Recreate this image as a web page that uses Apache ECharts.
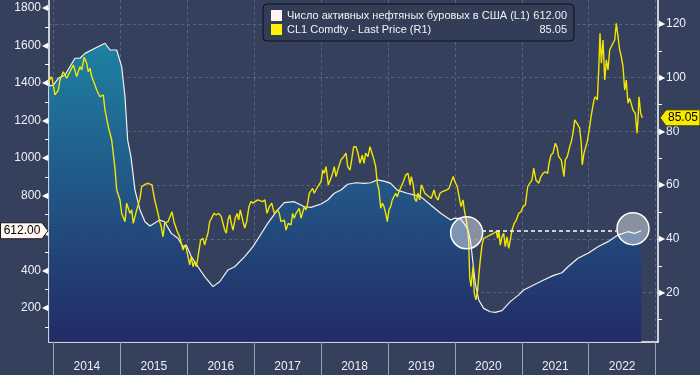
<!DOCTYPE html>
<html><head><meta charset="utf-8">
<script src="https://cdn.jsdelivr.net/npm/echarts@6/dist/echarts.min.js"></script>
<style>html,body{margin:0;padding:0;background:#35405c;}#c{width:700px;height:375px;}</style>
</head><body><div id="c"></div>
<script>
// ---- data ----
const seriesNames = ['Число активных нефтяных буровых в США (L1)', 'CL1 Comdty - Last Price (R1)'];
const yearTicks = [2014, 2015, 2016, 2017, 2018, 2019, 2020, 2021, 2022, 2023];
const yearLabels = ['2014', '2015', '2016', '2017', '2018', '2019', '2020', '2021', '2022'];
const leftLabelTicks = [200, 400, 600, 800, 1000, 1200, 1400, 1600, 1800];
const leftMinorTicks = [100, 300, 500, 700, 900, 1100, 1300, 1500, 1700];
const rightLabelTicks = [20, 40, 60, 80, 100, 120];
const rightMinorTicks = [10, 30, 50, 70, 90, 110];

// US oil rig count (time as decimal year)
const rigT = [2013.933, 2013.997, 2014.072, 2014.172, 2014.321, 2014.396, 2014.471, 2014.620, 2014.770, 2014.845,
  2014.945, 2015.019, 2015.069, 2015.109, 2015.158, 2015.218, 2015.293, 2015.368, 2015.442, 2015.462,
  2015.587, 2015.662, 2015.761, 2015.861, 2015.936, 2015.985, 2016.060, 2016.160, 2016.260, 2016.384,
  2016.484, 2016.608, 2016.709, 2016.858, 2016.982, 2017.076, 2017.202, 2017.351, 2017.450, 2017.599,
  2017.749, 2017.849, 2017.999, 2018.099, 2018.197, 2018.297, 2018.398, 2018.522, 2018.641, 2018.741,
  2018.840, 2018.940, 2019.040, 2019.139, 2019.288, 2019.489, 2019.638, 2019.788, 2019.937, 2019.987,
  2020.076, 2020.150, 2020.200, 2020.240, 2020.270, 2020.305, 2020.356, 2020.430, 2020.529, 2020.604,
  2020.704, 2020.828, 2020.954, 2021.028, 2021.178, 2021.327, 2021.477, 2021.601, 2021.691, 2021.840,
  2021.990, 2022.139, 2022.289, 2022.438, 2022.587, 2022.688, 2022.786];
const rigV = [1385, 1389, 1425, 1443, 1532, 1532, 1558, 1585, 1612, 1576,
  1576, 1487, 1327, 1096, 1007, 829, 723, 660, 637, 628,
  669, 660, 598, 572, 527, 536, 474, 420, 367, 314,
  340, 403, 420, 474, 527, 580, 651, 723, 762, 767,
  740, 737, 755, 776, 812, 829, 860, 868, 865, 868,
  883, 877, 865, 829, 812, 794, 749, 705, 669, 678,
  678, 645, 612, 540, 440, 332, 243, 198, 180, 177,
  186, 234, 270, 296, 323, 349, 374, 388, 420, 465,
  492, 527, 554, 589, 607, 598, 612];

// CL1 price (time as decimal year)
const priceT = [2013.922, 2013.973, 2013.997, 2014.022, 2014.072, 2014.097, 2014.146, 2014.172, 2014.197, 2014.247,
  2014.296, 2014.347, 2014.396, 2014.422, 2014.460, 2014.496, 2014.520, 2014.546, 2014.571, 2014.620,
  2014.646, 2014.670, 2014.695, 2014.744, 2014.770, 2014.819, 2014.870, 2014.894, 2014.919, 2014.945,
  2014.994, 2015.019, 2015.069, 2015.094, 2015.143, 2015.169, 2015.193, 2015.244, 2015.293, 2015.318,
  2015.368, 2015.413, 2015.442, 2015.472, 2015.513, 2015.562, 2015.588, 2015.611, 2015.637, 2015.662,
  2015.712, 2015.737, 2015.771, 2015.801, 2015.821, 2015.851, 2015.886, 2015.910, 2015.936, 2015.961,
  2015.985, 2016.010, 2016.036, 2016.060, 2016.085, 2016.111, 2016.135, 2016.160, 2016.200, 2016.235,
  2016.260, 2016.284, 2016.309, 2016.335, 2016.359, 2016.399, 2016.433, 2016.469, 2016.508, 2016.534,
  2016.559, 2016.583, 2016.608, 2016.634, 2016.658, 2016.683, 2016.717, 2016.747, 2016.768, 2016.792,
  2016.833, 2016.858, 2016.888, 2016.922, 2016.952, 2016.982, 2017.001, 2017.052, 2017.127, 2017.161,
  2017.191, 2017.226, 2017.262, 2017.300, 2017.351, 2017.375, 2017.401, 2017.450, 2017.475, 2017.510,
  2017.550, 2017.575, 2017.599, 2017.625, 2017.674, 2017.700, 2017.749, 2017.774, 2017.800, 2017.824,
  2017.874, 2017.898, 2017.949, 2017.999, 2018.024, 2018.048, 2018.073, 2018.108, 2018.137, 2018.173,
  2018.197, 2018.223, 2018.257, 2018.297, 2018.338, 2018.372, 2018.398, 2018.432, 2018.457, 2018.487,
  2018.522, 2018.552, 2018.581, 2018.616, 2018.641, 2018.667, 2018.701, 2018.731, 2018.750, 2018.791,
  2018.816, 2018.840, 2018.865, 2018.891, 2018.915, 2018.940, 2018.966, 2018.990, 2019.015, 2019.040,
  2019.064, 2019.090, 2019.115, 2019.139, 2019.164, 2019.190, 2019.229, 2019.265, 2019.299, 2019.329,
  2019.348, 2019.378, 2019.399, 2019.423, 2019.448, 2019.474, 2019.498, 2019.523, 2019.549, 2019.578,
  2019.613, 2019.647, 2019.688, 2019.713, 2019.747, 2019.777, 2019.812, 2019.837, 2019.877, 2019.912,
  2019.946, 2019.976, 2020.001, 2020.036, 2020.072, 2020.091, 2020.121, 2020.141, 2020.170, 2020.191,
  2020.206, 2020.221, 2020.241, 2020.271, 2020.290, 2020.315, 2020.341, 2020.360, 2020.380, 2020.405,
  2020.430, 2020.480, 2020.529, 2020.580, 2020.619, 2020.640, 2020.655, 2020.679, 2020.704, 2020.729,
  2020.753, 2020.779, 2020.804, 2020.828, 2020.854, 2020.888, 2020.918, 2020.954, 2020.988, 2021.018,
  2021.052, 2021.088, 2021.118, 2021.152, 2021.178, 2021.212, 2021.253, 2021.287, 2021.317, 2021.351,
  2021.387, 2021.407, 2021.436, 2021.466, 2021.501, 2021.526, 2021.551, 2021.575, 2021.590, 2021.616,
  2021.631, 2021.650, 2021.680, 2021.716, 2021.740, 2021.765, 2021.791, 2021.815, 2021.840, 2021.865,
  2021.889, 2021.904, 2021.930, 2021.955, 2021.979, 2022.015, 2022.039, 2022.079, 2022.099, 2022.129,
  2022.150, 2022.169, 2022.189, 2022.214, 2022.240, 2022.264, 2022.289, 2022.314, 2022.338, 2022.363,
  2022.389, 2022.413, 2022.438, 2022.463, 2022.487, 2022.513, 2022.538, 2022.562, 2022.587, 2022.613,
  2022.637, 2022.662, 2022.697, 2022.722, 2022.737, 2022.752, 2022.777, 2022.802];
const priceV = [98.5, 100.4, 97.3, 93.6, 95.4, 99.1, 102.2, 102.9, 99.8, 102.2,
  104.7, 100.4, 104.1, 102.9, 107.6, 105.4, 102.2, 103.5, 100.4, 97.3,
  95.4, 96.1, 92.9, 93.6, 88, 81.8, 76.8, 76.2, 66.3, 58.2,
  54.5, 49.5, 46.4, 53.3, 49.5, 50.8, 45.8, 50.8, 55.1, 59.4,
  60.3, 60.7, 60.7, 60.1, 54.5, 49.5, 46.4, 44.5, 40.8, 45.8,
  46.4, 46, 50.1, 46.4, 47, 42.7, 40.8, 40.8, 35.9, 37.7,
  36.5, 35.9, 30.3, 33.4, 29.7, 31.5, 29.7, 33.4, 39.6, 40.2,
  37.7, 40.2, 42.1, 46.4, 45.8, 49.5, 48.9, 49.5, 48.3, 45.8,
  43.3, 42.1, 47, 48.9, 45.8, 43.3, 47.7, 49.5, 47, 50.8,
  46.4, 44, 46.4, 52, 53.9, 53.3, 53.3, 54.5, 53.9, 54.5,
  49.5, 52, 53.3, 49.5, 50.8, 49.5, 46.4, 47, 43.3, 45.8,
  45.2, 49.5, 47.7, 49.5, 51.4, 47.7, 52, 50.8, 53.3, 57,
  58.8, 57, 59.4, 61.3, 65.6, 64.4, 66.9, 60.1, 61.9, 64.4,
  66.9, 63.2, 66.3, 69.4, 70.6, 71.9, 66.9, 65.6, 69.4, 74.3,
  74.3, 71.9, 68.1, 71.2, 68.1, 71.9, 70.6, 74.3, 74.3, 69.4,
  66.9, 60.7, 58.2, 51.4, 53.3, 52, 49.5, 46.4, 50.8, 52,
  54.5, 53.9, 57, 55.7, 57.6, 57, 61.3, 63.8, 64.4, 60.1,
  63.2, 60.1, 55.1, 53.9, 57, 54.5, 60.1, 58.8, 57, 57,
  55.7, 55.1, 58.2, 55.7, 54.5, 57, 57.6, 57, 58.2, 58.8,
  61.3, 63.2, 61.3, 59.4, 54.5, 52, 54.5, 50.8, 47, 43.3,
  39.6, 25.9, 22.2, 29.7, 19.8, 17.3, 21, 27.2, 32.2, 37.7,
  40.2, 40.8, 41.5, 42.1, 42.7, 40.2, 43.3, 37.7, 40.8, 42.1,
  37.1, 40.8, 36.5, 39.6, 43.3, 45.8, 47, 49.5, 50.1, 52,
  52.6, 59.4, 60.7, 61.9, 66.3, 61.9, 60.7, 63.2, 64.4, 65,
  64.4, 68.1, 71.2, 71.9, 75.6, 74.3, 70.6, 71.2, 69.4, 68.7,
  63.2, 69.4, 70.6, 74.3, 76.2, 79.3, 84.3, 84.3, 82.4, 81.2,
  75.6, 67.5, 71.9, 71.2, 76.2, 81.8, 86.1, 91.7, 92.9, 91.7,
  102.9, 116.5, 105.4, 114, 99.1, 106.6, 102.9, 110.3, 110.9, 112.8,
  114, 120.2, 120.8, 110.3, 107.8, 104.1, 95.4, 99.1, 90.5, 92.3,
  91.7, 88, 86.7, 79.3, 84.3, 92.9, 86.7, 85.05];

// highlighted points and guide line (rig count axis)
const highlightT = [2020.176, 2022.662];
const highlightV = [601, 623];
const guideT = [2020.405, 2022.416];
const guideV = 612;

// ---- chart ----
const FONT = 'Liberation Sans';
const rigData = rigT.map((t, i) => [t, rigV[i]]);
const priceData = priceT.map((t, i) => [t, priceV[i]]);
const lastRig = rigV[rigV.length - 1];
const lastPrice = priceV[priceV.length - 1];
const legendValues = {};
legendValues[seriesNames[0]] = lastRig.toFixed(2);
legendValues[seriesNames[1]] = lastPrice.toFixed(2);

const gridColor = '#56648a';
const chart = echarts.init(document.getElementById('c'), null, {renderer: 'canvas'});
chart.setOption({
  animation: false,
  backgroundColor: '#35405c',
  textStyle: {fontFamily: FONT},
  grid: {left: 49, right: 42, top: 0, bottom: 33, containLabel: false},
  legend: {
    left: 263, top: 4, orient: 'vertical',
    data: seriesNames,
    backgroundColor: '#323d58', borderColor: '#0c101c', borderWidth: 1, borderRadius: 4,
    padding: [6, 7, 6, 8], itemWidth: 11, itemHeight: 11, itemGap: 3, icon: 'rect',
    selectedMode: false,
    formatter: name => `{n|${name}}{v|${legendValues[name]}}`,
    textStyle: {
      color: '#f2f2f2', fontSize: 11, fontFamily: FONT,
      rich: {n: {width: 240, fontSize: 11, color: '#f2f2f2', fontFamily: FONT},
             v: {width: 40, align: 'right', fontSize: 11, color: '#f2f2f2', fontFamily: FONT}}
    }
  },
  xAxis: {
    type: 'value', min: 2013.933, max: 2023.036,
    axisLine: {show: true, onZero: false, lineStyle: {color: '#ffffff', width: 1.5}},
    axisTick: {show: true, customValues: yearTicks, length: 33, lineStyle: {color: '#9aa2b6', width: 1}},
    axisLabel: {
      customValues: yearLabels.map(y => Number(y) + 0.5),
      formatter: v => String(Math.floor(v)),
      color: '#f0f0f0', fontSize: 12, fontFamily: FONT, margin: 19
    },
    splitLine: {show: true, lineStyle: {color: gridColor, type: [3, 3], width: 1}}
  },
  yAxis: [
    {
      type: 'value', position: 'left', min: 18.7, max: 1842.7,
      axisLine: {show: true, lineStyle: {color: '#ffffff', width: 1.5}},
      axisTick: {show: true, customValues: leftMinorTicks.concat(leftLabelTicks), length: 4, lineStyle: {color: '#ffffff'}},
      axisLabel: {
        customValues: leftLabelTicks, margin: 1,
        formatter: v => `{v|${v}}{t|◀}`,
        rich: {v: {color: '#eef1f8', fontSize: 12, fontFamily: FONT},
               t: {color: '#ffffff', fontSize: 8, padding: [0, 0, 0, 1]}}
      },
      splitLine: {show: false}
    },
    {
      type: 'value', position: 'right', min: 1.64, max: 128.9,
      axisLine: {show: true, lineStyle: {color: '#ffffff', width: 1.5}},
      axisTick: {show: true, customValues: rightLabelTicks, length: 4, lineStyle: {color: '#ffffff'}},
      axisLabel: {
        customValues: rightLabelTicks, margin: 1,
        formatter: v => `{t|▶}{v|${v}}`,
        rich: {v: {color: '#eef1f8', fontSize: 12, fontFamily: FONT},
               t: {color: '#ffffff', fontSize: 8, padding: [0, 1, 0, 0]}}
      },
      splitLine: {show: true, lineStyle: {color: gridColor, type: [3, 3], width: 1}}
    },
    {
      type: 'value', position: 'right', min: 1.64, max: 128.9,
      axisLine: {show: false},
      axisTick: {show: true, customValues: rightMinorTicks, length: 4, lineStyle: {color: '#ffffff'}},
      axisLabel: {show: false},
      splitLine: {show: false}
    }
  ],
  series: [
    {
      name: seriesNames[0], type: 'line', yAxisIndex: 0, data: rigData,
      showSymbol: false, symbol: 'none', z: 2,
      itemStyle: {color: '#fff4ee'},
      lineStyle: {color: '#f2f2f2', width: 1.2},
      areaStyle: {
        opacity: 0.9,
        color: new echarts.graphic.LinearGradient(0, 0, 0, 1, [
          {offset: 0, color: '#1b88aa'},
          {offset: 0.45, color: '#1f5c8d'},
          {offset: 1, color: '#212866'}
        ])
      },
      markPoint: {
        symbol: 'circle', symbolSize: 32, silent: true,
        itemStyle: {color: 'rgba(255,255,255,0.42)', borderColor: '#ffffff', borderWidth: 1.5},
        label: {show: false},
        data: highlightT.map((t, i) => ({coord: [t, highlightV[i]]}))
      },
      markLine: {
        symbol: 'none', silent: true, label: {show: false},
        lineStyle: {color: '#ffffff', type: [4, 3], width: 1.5},
        data: [[{coord: [guideT[0], guideV]}, {coord: [guideT[1], guideV]}]]
      }
    },
    {
      name: seriesNames[1], type: 'line', yAxisIndex: 1, data: priceData,
      showSymbol: false, symbol: 'none', z: 3,
      itemStyle: {color: '#fff200'},
      lineStyle: {color: '#f2e600', width: 1.4}
    }
  ]
});

const yL = chart.convertToPixel({yAxisIndex: 0}, lastRig);
const yR = chart.convertToPixel({yAxisIndex: 1}, lastPrice);
chart.setOption({
  graphic: [
    {type: 'polygon', z: 100, shape: {points: [[0.5, yL - 8], [42, yL - 8], [48, yL], [42, yL + 8], [0.5, yL + 8]]},
     style: {fill: '#fff7f0', stroke: '#1a1a1a', lineWidth: 1}},
    {type: 'text', z: 101, x: 22, y: yL, style: {text: lastRig.toFixed(2), fill: '#000', font: '12px ' + FONT, textAlign: 'center', textVerticalAlign: 'middle'}},
    {type: 'polygon', z: 100, shape: {points: [[660, yR], [666, yR - 8], [700, yR - 8], [700, yR + 8], [666, yR + 8]]},
     style: {fill: '#f7ea00', stroke: '#3a3a20', lineWidth: 1}},
    {type: 'text', z: 101, x: 683, y: yR, style: {text: lastPrice.toFixed(2), fill: '#000', font: '12px ' + FONT, textAlign: 'center', textVerticalAlign: 'middle'}}
  ]
});
</script>
</body></html>
